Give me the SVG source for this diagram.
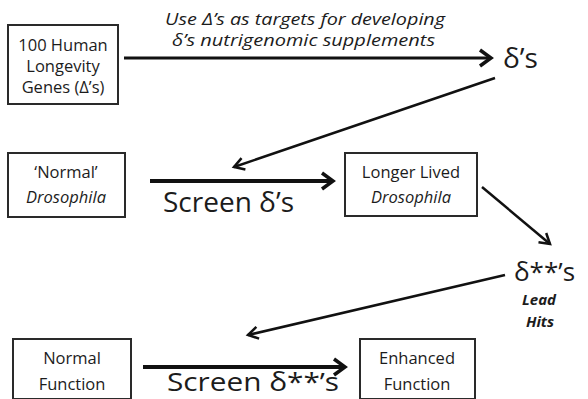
<svg xmlns="http://www.w3.org/2000/svg" width="588" height="399" viewBox="0 0 588 399">
<style>
text{font-family:"Open Sans",Lato,"Liberation Sans",sans-serif;fill:#1c1c1c}
.box{fill:#fff;stroke:#2a2a2a;stroke-width:2}
.bt{font-size:16.5px;text-anchor:middle}
.it{font-style:italic}
.big{font-size:28px}
.con{stroke:#111;fill:none}
</style>
<defs>
<marker id="ah" markerUnits="userSpaceOnUse" viewBox="-16 -12 20 24" refX="0" refY="0" markerWidth="20" markerHeight="24" orient="auto">
<path d="M-11 -8 L0 0 L-11 8" fill="none" stroke="#111" stroke-width="3.5"/>
</marker>
<marker id="ahs" markerUnits="userSpaceOnUse" viewBox="-16 -12 20 24" refX="0" refY="0" markerWidth="20" markerHeight="24" orient="auto">
<path d="M-10 -6 L0 0 L-10 6" fill="none" stroke="#111" stroke-width="2.5"/>
</marker>
</defs>
<rect width="588" height="399" fill="#fff"/>
<g id="connectors">
<line class="con" x1="124" y1="58" x2="491" y2="58" stroke-width="3" marker-end="url(#ah)"/>
<line class="con" x1="495" y1="78" x2="234" y2="167" stroke-width="2.5" marker-end="url(#ahs)"/>
<line class="con" x1="150" y1="181" x2="333" y2="181" stroke-width="4" marker-end="url(#ah)"/>
<line class="con" x1="482" y1="187" x2="550" y2="244" stroke-width="2.5" marker-end="url(#ahs)"/>
<line class="con" x1="505" y1="275" x2="248" y2="335" stroke-width="2.5" marker-end="url(#ahs)"/>
<line class="con" x1="143" y1="367" x2="345" y2="367" stroke-width="4" marker-end="url(#ah)"/>
<text class="it" x="165" y="25" font-size="17" textLength="280" lengthAdjust="spacingAndGlyphs">Use Δ’s as targets for developing</text>
<text class="it" x="172" y="46" font-size="17" textLength="263" lengthAdjust="spacingAndGlyphs">δ’s nutrigenomic supplements</text>
<text class="big" x="163" y="212">Screen δ’s</text>
<text x="167" y="391" font-size="25" textLength="172" lengthAdjust="spacingAndGlyphs">Screen δ**’s</text>
</g>
<g id="genes">
<rect class="box" x="8" y="25" width="110" height="79"/>
<text class="bt" x="63" y="51">100 Human</text>
<text class="bt" x="63" y="72">Longevity</text>
<text class="bt" x="63" y="93">Genes (Δ’s)</text>
</g>
<g id="deltas">
<text x="503" y="68" font-size="28">δ’s</text>
</g>
<g id="normal-drosophila">
<rect class="box" x="8" y="153" width="117" height="64"/>
<text class="bt" x="66" y="178">‘Normal’</text>
<text class="bt it" x="66" y="203">Drosophila</text>
</g>
<g id="longer-lived">
<rect class="box" x="345" y="153" width="132" height="63"/>
<text class="bt" x="411" y="178">Longer Lived</text>
<text class="bt it" x="411" y="203">Drosophila</text>
</g>
<g id="lead-hits">
<text x="514" y="281" font-size="26">δ**’s</text>
<text x="539" y="305" font-size="15" font-style="italic" font-weight="bold" text-anchor="middle">Lead</text>
<text x="540" y="327" font-size="15" font-style="italic" font-weight="bold" text-anchor="middle">Hits</text>
</g>
<g id="normal-function">
<rect class="box" x="13" y="339" width="118" height="60"/>
<text class="bt" x="72" y="364">Normal</text>
<text class="bt" x="72" y="390">Function</text>
</g>
<g id="enhanced-function">
<rect class="box" x="360" y="339" width="115" height="60"/>
<text class="bt" x="417" y="364">Enhanced</text>
<text class="bt" x="417" y="390">Function</text>
</g>
</svg>
